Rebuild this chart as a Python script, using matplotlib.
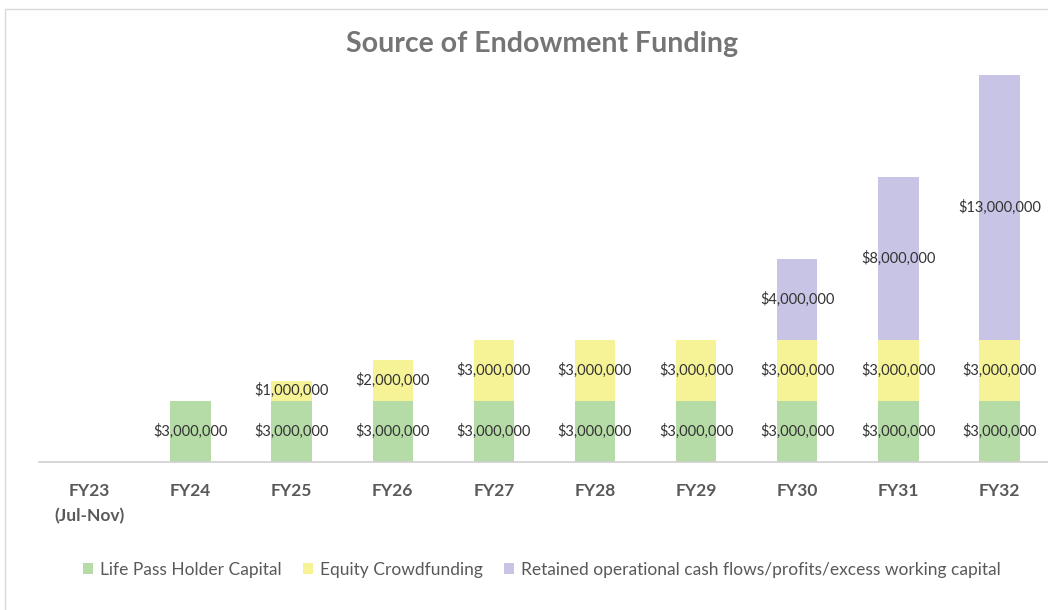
import numpy as np
import matplotlib.pyplot as plt
from matplotlib.patches import Rectangle

plt.rcParams['font.family'] = ['Lato', 'DejaVu Sans']

# chart data
years = ['FY23\n(Jul-Nov)', 'FY24', 'FY25', 'FY26', 'FY27', 'FY28', 'FY29', 'FY30', 'FY31', 'FY32']
life_pass = [0, 3000000, 3000000, 3000000, 3000000, 3000000, 3000000, 3000000, 3000000, 3000000]
crowdfunding = [0, 0, 1000000, 2000000, 3000000, 3000000, 3000000, 3000000, 3000000, 3000000]
retained = [0, 0, 0, 0, 0, 0, 0, 4000000, 8000000, 13000000]

series_names = ['Life Pass Holder Capital', 'Equity Crowdfunding',
                'Retained operational cash flows/profits/excess working capital']
colors = ['#b5dba6', '#f5f396', '#c7c4e5']

fig = plt.figure(figsize=(10.48, 6.10), dpi=100)
ax = fig.add_axes([0.037, 0.2426, 0.965, 0.667])

x = np.arange(len(years))
bottom = np.zeros(len(years))
for vals, name, c in zip([life_pass, crowdfunding, retained], series_names, colors):
    vals = np.array(vals)
    bars = ax.bar(x, vals, width=0.4, bottom=bottom, color=c, label=name)
    labels = ['${:,.0f}'.format(v) if v > 0 else '' for v in vals]
    ax.bar_label(bars, labels=labels, label_type='center', fontsize=10.5, color='#333333')
    bottom += vals

ax.set_xlim(-0.5, len(years) - 0.5)
ax.set_ylim(0, 20000000)
ax.set_xticks(x)
ax.set_xticklabels(years, fontsize=12.5, fontweight='bold', color='#595959', linespacing=1.7)
ax.tick_params(axis='x', length=0, pad=15)
ax.set_yticks([])
for s in ['top', 'right', 'left']:
    ax.spines[s].set_visible(False)
ax.spines['bottom'].set_color('#d0d0d0')
ax.spines['bottom'].set_linewidth(1.2)

fig.text(0.517, 0.928, 'Source of Endowment Funding', ha='center', va='center',
         fontsize=20.5, fontweight='bold', color='#757575')

fig.legend(loc='center', bbox_to_anchor=(0.517, 0.066), ncol=3, frameon=False,
           fontsize=12.5, labelcolor='#595959', handlelength=0.6, handleheight=0.6,
           handletextpad=0.4, columnspacing=1.2)

# outer chart border
fig.patches.append(Rectangle((0.005, -0.01), 1.0, 0.995, transform=fig.transFigure,
                             fill=False, edgecolor='#d9d9d9', linewidth=1))

fig.savefig('out.png', dpi=100)
